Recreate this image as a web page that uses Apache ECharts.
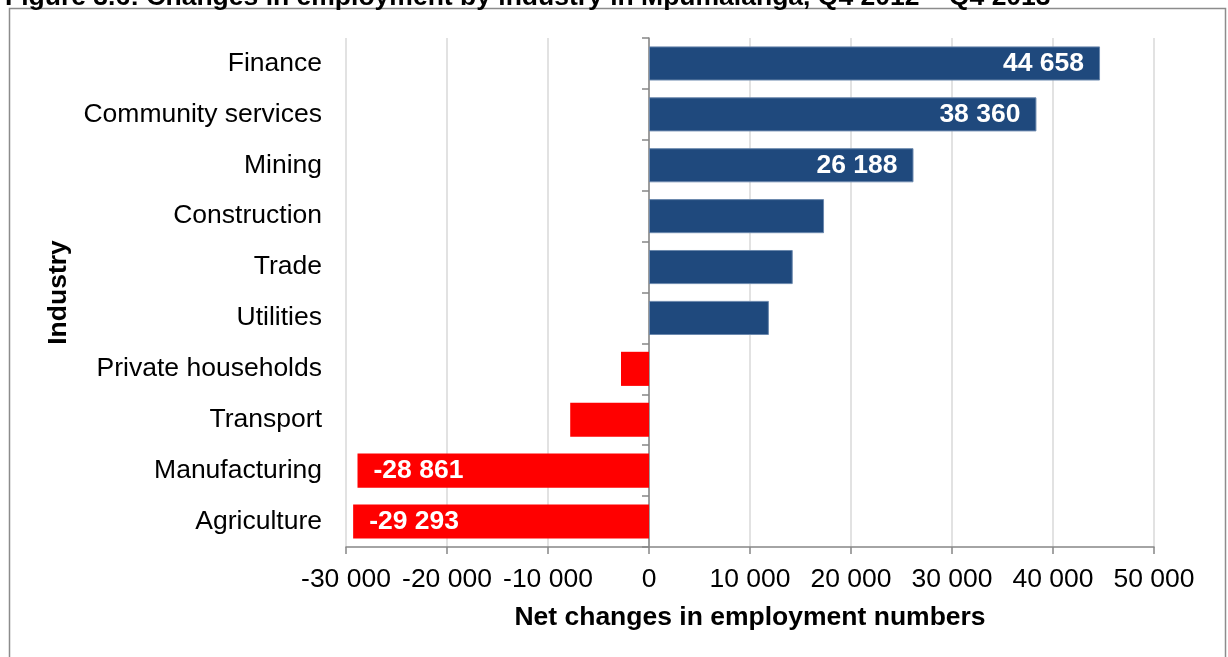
<!DOCTYPE html>
<html>
<head>
<meta charset="utf-8">
<script src="https://cdn.jsdelivr.net/npm/echarts@6/dist/echarts.min.js"></script>
<style>
  html, body { margin: 0; padding: 0; background: #fff; }
  #chart { width: 1228px; height: 657px; }
</style>
</head>
<body>
<div id="chart"></div>
<script>
// industries listed top to bottom, as in the figure
const industries = [
  'Finance', 'Community services', 'Mining', 'Construction', 'Trade',
  'Utilities', 'Private households', 'Transport', 'Manufacturing', 'Agriculture'
]
const netChange = [44658, 38360, 26188, 17330, 14230, 11870, -2770, -7800, -28861, -29293]
// only these bars carry a value label in the source
const labelled = ['Finance', 'Community services', 'Mining', 'Manufacturing', 'Agriculture']

const xMin = -30000
const xMax = 50000
const xStep = 10000

const font = 'Arial, "Liberation Sans", sans-serif'
const fs = 26.5
const fmt = v => String(v).replace(/\B(?=(\d{3})+(?!\d))/g, ' ')

const chart = echarts.init(document.getElementById('chart'))

const barData = netChange.map((v, i) => {
  const pos = v >= 0
  return {
    value: v,
    itemStyle: pos
      ? { color: '#1f497d', borderColor: '#6b88ad', borderWidth: 1 }
      : { color: '#ff0000' },
    label: {
      show: labelled.includes(industries[i]),
      position: pos ? 'insideRight' : 'insideLeft',
    },
  }
})

chart.setOption({
  animation: false,
  textStyle: { fontFamily: font },
  title: {
    text: 'Figure 3.6: Changes in employment by industry in Mpumalanga, Q4 2012 – Q4 2013',
    left: 0,
    top: -21,
    textStyle: { fontFamily: font, fontSize: fs, fontWeight: 'bold', color: '#000' },
  },
  graphic: [
    {
      type: 'rect',
      z: -10,
      shape: { x: 9.5, y: 8.5, width: 1216, height: 700 },
      style: { fill: '#fff', stroke: '#8c8c8c', lineWidth: 1.5 },
    },
  ],
  grid: { left: 346, right: 74, top: 38, bottom: 110 },
  xAxis: {
    type: 'value',
    min: xMin,
    max: xMax,
    interval: xStep,
    name: 'Net changes in employment numbers',
    nameLocation: 'middle',
    nameGap: 57,
    nameTextStyle: { fontFamily: font, fontSize: fs, fontWeight: 'bold', color: '#000' },
    axisLine: { show: true, lineStyle: { color: '#868686', width: 1.5 } },
    axisTick: { show: true, length: 7, lineStyle: { color: '#868686', width: 1.5 } },
    axisLabel: { formatter: fmt, margin: 19, fontSize: fs, color: '#000', fontFamily: font },
    splitLine: { show: true, lineStyle: { color: '#d9d9d9', width: 1.5 } },
  },
  yAxis: [
    {
      type: 'category',
      data: industries,
      inverse: true,
      name: 'Industry',
      nameLocation: 'middle',
      nameRotate: 90,
      nameGap: 270,
      nameTextStyle: { fontFamily: font, fontSize: fs, fontWeight: 'bold', color: '#000' },
      axisLine: { show: false, onZero: false },
      axisTick: { show: false },
      axisLabel: { margin: 24, fontSize: fs, color: '#000', fontFamily: font, padding: [7, 0, 0, 0] },
    },
    {
      // vertical line through zero, with the category ticks
      type: 'category',
      data: industries,
      inverse: true,
      position: 'left',
      axisLine: { show: true, onZero: true, onZeroAxisIndex: 0, lineStyle: { color: '#868686', width: 1.5 } },
      axisTick: { show: true, length: 7, lineStyle: { color: '#868686', width: 1.5 } },
      axisLabel: { show: false },
    },
  ],
  series: [
    {
      type: 'bar',
      yAxisIndex: 0,
      data: barData,
      barCategoryGap: '33%',
      label: {
        distance: 16,
        color: '#fff',
        fontSize: fs,
        fontWeight: 'bold',
        fontFamily: font,
        padding: [7, 0, 0, 0],
        formatter: p => fmt(p.value),
      },
    },
  ],
})
</script>
</body>
</html>
